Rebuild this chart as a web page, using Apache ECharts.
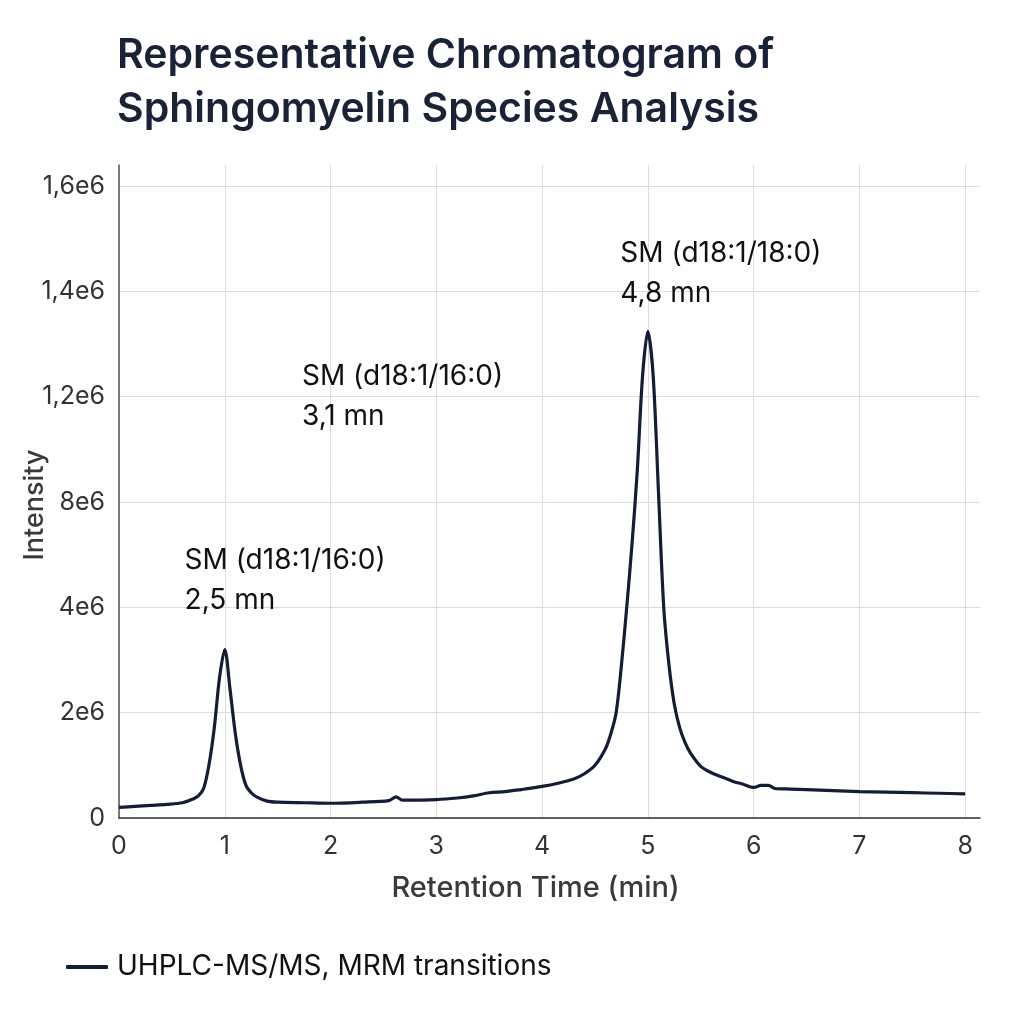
<!DOCTYPE html>
<html>
<head>
<meta charset="utf-8">
<script src="https://cdn.jsdelivr.net/npm/echarts@6/dist/echarts.min.js"></script>
<style>
  html, body { margin: 0; padding: 0; background: #fff; }
  #main { width: 1024px; height: 1024px; }
</style>
</head>
<body>
<div id="main"></div>
<script>
// ---- data ----
// y is in grid steps: the tick labels of the original are not linear
var timeMin = [0, 0.15, 0.3, 0.45, 0.6, 0.7, 0.75, 0.8, 0.85, 0.9, 0.95, 1.0, 1.05, 1.1, 1.15, 1.2, 1.25, 1.3, 1.4, 1.5,
  1.75, 2.0, 2.3, 2.55, 2.62, 2.68, 3.0, 3.2, 3.35, 3.5, 3.65, 3.8, 4.0, 4.15, 4.3, 4.4, 4.5, 4.6, 4.65, 4.7, 4.75,
  4.8, 4.85, 4.9, 4.95, 5.0, 5.05, 5.1, 5.15, 5.2, 5.25, 5.3, 5.35, 5.4, 5.5, 5.6, 5.7, 5.8, 5.9, 6.0, 6.07, 6.14, 6.2,
  6.35, 6.5, 6.75, 7.0, 7.25, 7.5, 7.75, 8.0];
var intensity = [0.10, 0.11, 0.12, 0.13, 0.145, 0.18, 0.21, 0.28, 0.50, 0.85, 1.33, 1.60, 1.22, 0.80, 0.50, 0.31, 0.24, 0.20, 0.16, 0.15,
  0.145, 0.14, 0.15, 0.165, 0.20, 0.17, 0.175, 0.19, 0.21, 0.24, 0.25, 0.27, 0.30, 0.33, 0.37, 0.42, 0.50, 0.66, 0.80, 1.0, 1.45,
  2.0, 2.6, 3.3, 4.2, 4.62, 4.2, 3.1, 2.0, 1.45, 1.08, 0.86, 0.72, 0.62, 0.49, 0.43, 0.39, 0.35, 0.32, 0.29, 0.31, 0.31, 0.28,
  0.275, 0.27, 0.26, 0.25, 0.245, 0.24, 0.235, 0.23];
var yTickLabels = ['0', '2e6', '4e6', '8e6', '1,2e6', '1,4e6', '1,6e6'];
var xTickLabels = ['0', '1', '2', '3', '4', '5', '6', '7', '8'];

var peakNames = ['SM (d18:1/16:0)', 'SM (d18:1/16:0)', 'SM (d18:1/18:0)'];
var peakTimes = ['2,5 mn', '3,1 mn', '4,8 mn'];
var peakLabelAt = [[0.62, 2.63], [1.73, 4.38], [4.74, 5.55]];

var seriesName = 'UHPLC-MS/MS, MRM transitions';

var lineData = [];
for (var i = 0; i < timeMin.length; i++) {
  lineData.push([timeMin[i], intensity[i]]);
}

var marks = [];
for (var k = 0; k < peakNames.length; k++) {
  marks.push({ coord: peakLabelAt[k], value: peakNames[k] + '\n' + peakTimes[k] });
}

var font = 'Inter, "Noto Sans", sans-serif';
var grid = '#dddddd';

var chart = echarts.init(document.getElementById('main'));
var option = {
  backgroundColor: '#fff',
  animation: false,
  textStyle: { fontFamily: font },
  title: {
    text: 'Representative Chromatogram of\nSphingomyelin Species Analysis',
    left: 112,
    top: 24,
    textStyle: { fontSize: 41, fontWeight: 600, color: '#1a2238', lineHeight: 54, fontFamily: font }
  },
  legend: {
    left: 61,
    top: 948,
    itemWidth: 42,
    itemHeight: 4,
    icon: 'roundRect',
    textStyle: { fontSize: 28, color: '#111', fontFamily: font, padding: [0, 0, 0, 4] },
    data: [seriesName]
  },
  grid: { left: 119, right: 44, top: 165, bottom: 206, outerBoundsMode: 'none' },
  xAxis: {
    type: 'value',
    min: 0,
    max: 8.14,
    interval: 1,
    name: 'Retention Time (min)',
    nameLocation: 'middle',
    nameGap: 56,
    nameTextStyle: { fontSize: 29, color: '#3a3a3a', fontWeight: 500, padding: [0, 28, 0, 0] },
    axisLine: { lineStyle: { color: '#333', width: 1.5 } },
    axisTick: { show: false },
    axisLabel: {
      fontSize: 25, color: '#333', margin: 16,
      formatter: function (v) { return Math.abs(v - Math.round(v)) < 1e-6 ? xTickLabels[Math.round(v)] : ''; }
    },
    splitLine: {
      lineStyle: { color: [grid, grid, grid, grid, grid, grid, grid, grid, grid, 'rgba(0,0,0,0)'] }
    }
  },
  yAxis: {
    type: 'value',
    min: 0,
    max: 6.2,
    interval: 1,
    name: 'Intensity',
    nameLocation: 'middle',
    nameGap: 71,
    nameMoveOverlap: false,
    nameTextStyle: { fontSize: 27, color: '#3a3a3a', fontWeight: 500, padding: [0, 27, 0, 0] },
    axisLine: { show: true, lineStyle: { color: '#555', width: 1.5 } },
    axisTick: { show: false },
    axisLabel: {
      fontSize: 25, color: '#333', margin: 14,
      formatter: function (v) { return Math.abs(v - Math.round(v)) < 1e-6 ? yTickLabels[Math.round(v)] : ''; }
    },
    splitLine: {
      lineStyle: { color: [grid, grid, grid, grid, grid, grid, grid, 'rgba(0,0,0,0)'] }
    }
  },
  series: [{
    name: seriesName,
    type: 'line',
    data: lineData,
    smooth: 0.3,
    showSymbol: false,
    symbol: 'none',
    color: '#141c36',
    lineStyle: { color: '#141c36', width: 3.2 },
    markPoint: {
      symbol: 'circle',
      symbolSize: 0,
      silent: true,
      label: {
        show: true,
        position: [0, 0],
        align: 'left',
        verticalAlign: 'top',
        fontSize: 28,
        lineHeight: 40,
        color: '#111',
        fontFamily: font,
        formatter: function (p) { return p.value; }
      },
      data: marks
    }
  }]
};
chart.setOption(option);
</script>
</body>
</html>
